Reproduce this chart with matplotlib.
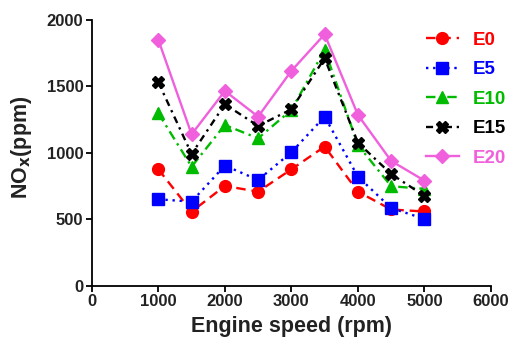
import matplotlib
matplotlib.use("Agg")
import matplotlib.pyplot as plt

speed = [1000, 1500, 2000, 2500, 3000, 3500, 4000, 4500, 5000]
e0 = [877, 559, 752, 709, 877, 1048, 709, 575, 560]
e5 = [652, 634, 905, 797, 1005, 1273, 822, 586, 504]
e10 = [1298, 897, 1210, 1110, 1323, 1774, 1060, 750, 730]
e15 = [1531, 992, 1366, 1203, 1328, 1712, 1077, 842, 677]
e20 = [1850, 1140, 1466, 1273, 1617, 1892, 1286, 940, 792]
labels = ["E0", "E5", "E10", "E15", "E20"]
xticks = [0, 1000, 2000, 3000, 4000, 5000, 6000]
yticks = [0, 500, 1000, 1500, 2000]

plt.rcParams['font.family'] = ['Liberation Sans', 'DejaVu Sans']

fig = plt.figure(figsize=(5.13, 3.49), dpi=100)
ax = fig.add_axes([0.179, 0.1805, 0.778, 0.7625])

styles = [
    dict(color='#ff0000', ls=(0, (4, 2.5)), marker='o', ms=8.5),
    dict(color='#0000ff', ls=(0, (1, 2)), marker='s', ms=8.5),
    dict(color='#00bb00', ls=(0, (4, 2, 1, 2)), marker='^', ms=8.5),
    dict(color='#000000', ls=(0, (3, 2, 1, 2)), marker='X', ms=8),
    dict(color='#f060dc', ls='-', marker='D', ms=7.5),
]
series = [e0, e5, e10, e15, e20]
for s, lab, st in zip(series, labels, styles):
    ax.plot(speed, s, label=lab, lw=1.7, color=st['color'], ls=st['ls'],
            marker=st['marker'], ms=st['ms'], mec=st['color'], mfc=st['color'])

ax.set_xlim(0, 6000)
ax.set_ylim(0, 2000)
ax.set_xticks(xticks)
ax.set_yticks(yticks)
for sp in ['top', 'right']:
    ax.spines[sp].set_visible(False)
for sp in ['left', 'bottom']:
    ax.spines[sp].set_linewidth(1.3)
ax.tick_params(direction='out', length=4, width=1.3, labelsize=12, pad=2)
for t in ax.get_xticklabels() + ax.get_yticklabels():
    t.set_fontweight('bold')
    t.set_color('#222222')

ax.set_xlabel('Engine speed (rpm)', fontsize=15.5, fontweight='bold', labelpad=5,
              color='#222222')
ax.set_ylabel('NO$_\\mathbf{x}$(ppm)', fontsize=15.5, fontweight='bold',
              color='#222222')
ax.yaxis.set_label_coords(-0.145, 0.52)

leg = ax.legend(loc='upper left', bbox_to_anchor=(0.8375, 0.955), frameon=False,
                borderpad=0, borderaxespad=0,
                handlelength=1.75, labelspacing=0.66, handletextpad=0.75,
                prop={'weight': 'bold', 'size': 13.5})
for txt, st in zip(leg.get_texts(), styles):
    txt.set_color(st['color'])

fig.savefig('out.png', dpi=100)
